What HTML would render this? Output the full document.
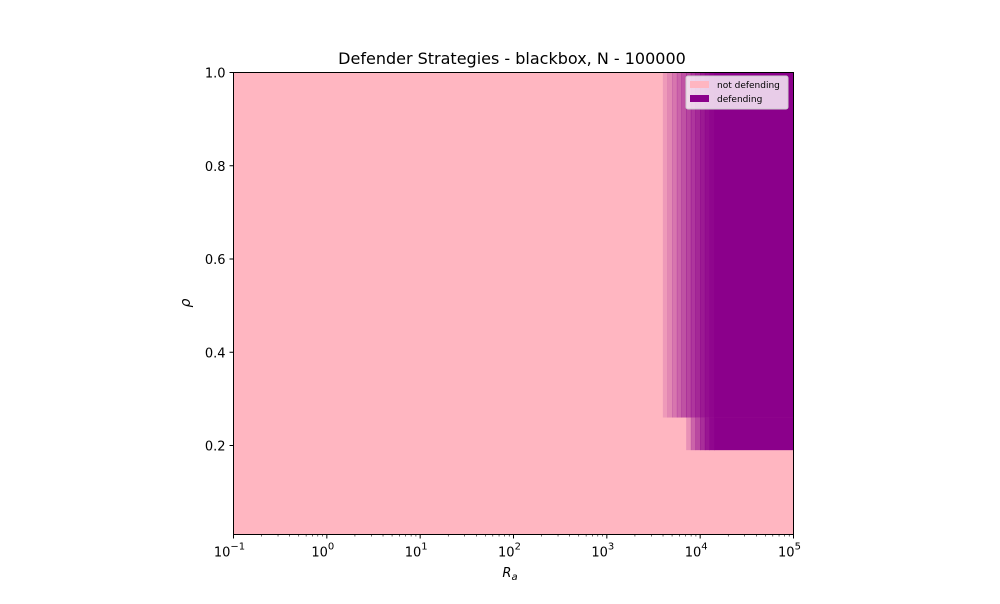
<!DOCTYPE html>
<html><head><meta charset="utf-8"><style>
body{margin:0;background:#fff;font-family:"DejaVu Sans","Liberation Sans",sans-serif}
</style></head><body>
<svg id="c" width="1000" height="600" style="font-family:'DejaVu Sans','Liberation Sans',sans-serif">
<text x="512" y="64" font-size="16" text-anchor="middle">Defender Strategies - blackbox, N - 100000</text>
<g id="plot"></g>
<g id="axes"></g>
</svg>
<script>
// data
const logR = [3.60,3.65,3.70,3.75,3.80,3.85,3.90,3.95,4.00,4.05,4.10,4.15];
const upperDefend = [0.15,0.25,0.35,0.45,0.55,0.62,0.70,0.78,0.86,0.92,0.97,1.0];
const lowerDefend = [0,0,0,0,0,0.2,0.45,0.6,0.75,0.88,0.96,1.0];
const upperRhoMin = 0.26;
const lowerRhoMin = 0.19;
const xTicks = [-1,0,1,2,3,4,5];
const yTicks = [0.2,0.4,0.6,0.8,1.0];

const X0=233.5,X1=793.5,Y0=72.5,Y1=534.5;
const xs = v => X0 + (v+1)/6*(X1-X0);
const ys = v => Y0 + (1-v)*466.25;
const NS='http://www.w3.org/2000/svg';
function mk(tag,attrs,parent){const e=document.createElementNS(NS,tag);for(const k in attrs)e.setAttribute(k,attrs[k]);parent.appendChild(e);return e;}
const plot=document.getElementById('plot'), axes=document.getElementById('axes');
let bg=mk('rect',{x:X0,y:Y0,width:X1-X0,height:Y1-Y0,fill:'#ffb6c1'},plot);


for(let i=0;i<logR.length;i++){
  const xa=xs(logR[i]), xb = i<logR.length-1 ? xs(logR[i+1]) : X1;
  let r=mk('rect',{x:xa,y:Y0,width:xb-xa+0.5,height:ys(upperRhoMin)-Y0,fill:'#8b008b','fill-opacity':upperDefend[i]},plot);
  
  
  let r2=mk('rect',{x:xa,y:ys(upperRhoMin),width:xb-xa+0.5,height:ys(lowerRhoMin)-ys(upperRhoMin),fill:'#8b008b','fill-opacity':lowerDefend[i]},plot);
  
  
}
let fr=mk('rect',{x:X0,y:Y0,width:X1-X0,height:Y1-Y0,fill:'none',stroke:'#000','stroke-width':1},axes);


xTicks.forEach(t=>{
  const x=xs(t);
  mk('line',{x1:x,y1:Y1,x2:x,y2:Y1+4,stroke:'#000'},axes);
  if(t<5) for(let m=2;m<10;m++){const xm=xs(t+Math.log10(m));mk('line',{x1:xm,y1:Y1,x2:xm,y2:Y1+2,stroke:'#000','stroke-width':0.6},axes);}
  const tx=mk('text',{x:x-4,y:Y1+22,'font-size':13,'text-anchor':'middle'},axes);
  
  
  tx.innerHTML='10<tspan dy="-7" font-size="10">'+(t<0?'−'+(-t):t)+'</tspan>';
});
yTicks.forEach(t=>{
  const y=ys(t);
  mk('line',{x1:X0-4,y1:y,x2:X0,y2:y,stroke:'#000'},axes);
  const tx=mk('text',{x:X0-8,y:y+5,'font-size':13,'text-anchor':'end'},axes);
  
  
  tx.textContent=t.toFixed(1);
});
let xl=mk('text',{x:510,y:577,'font-size':13,'text-anchor':'middle','font-style':'italic'},axes);


xl.innerHTML='R<tspan dy="3" font-size="10">a</tspan>';
let yl=mk('text',{x:190,y:303,'font-size':14,'text-anchor':'middle','font-style':'italic',transform:'rotate(-90 190 303)'},axes);


yl.textContent='ρ';
// legend
const lg=mk('g',{},axes);


mk('rect',{x:686,y:76,width:102,height:33,rx:2,fill:'#fff','fill-opacity':0.8,stroke:'#ccc'},lg);
mk('rect',{x:690,y:81,width:19,height:7,fill:'#ffb6c1'},lg);
mk('rect',{x:690,y:95,width:19,height:7,fill:'#8b008b'},lg);
let l1=mk('text',{x:717,y:88,'font-size':9},lg);l1.textContent='not defending';


let l2=mk('text',{x:717,y:102,'font-size':9},lg);l2.textContent='defending';


</script>
</body></html>
